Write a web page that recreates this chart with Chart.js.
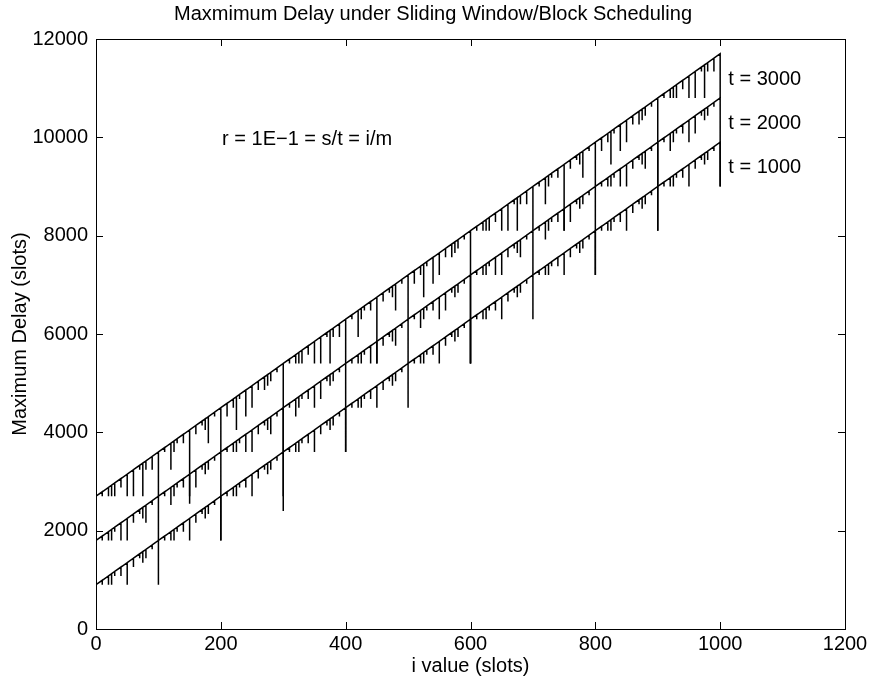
<!DOCTYPE html>
<html>
<head>
<meta charset="utf-8">
<script src="https://cdn.jsdelivr.net/npm/chart.js@4.4.1/dist/chart.umd.min.js"></script>
<style>
  html, body { margin: 0; padding: 0; background: #fff; }
  #wrap { width: 875px; height: 686px; }
</style>
</head>
<body>
<div id="wrap"><canvas id="myChart" width="875" height="686"></canvas></div>
<script>
// i values where the curves were read (spike positions)
const iValues = [0,
  10,20,25,30,40,50,60,70,75,80,90,100,
  110,120,125,130,140,150,160,170,175,180,190,200,
  210,220,225,230,240,250,260,270,275,280,290,300,
  310,320,325,330,340,350,360,370,375,380,390,400,
  410,420,425,430,440,450,460,470,475,480,490,500,
  510,520,525,530,540,550,560,570,575,580,590,600,
  610,620,625,630,640,650,660,670,675,680,690,700,
  710,720,725,730,740,750,760,770,775,780,790,800,
  810,820,825,830,840,850,860,870,875,880,890,900,
  910,920,925,930,940,950,960,970,975,980,990,1000];

// upper edge of each curve (slots)
const top1000 = [900,
  990,1080,1125,1170,1260,1350,1440,1530,1575,1620,1710,1800,
  1890,1980,2025,2070,2160,2250,2340,2430,2475,2520,2610,2700,
  2790,2880,2925,2970,3060,3150,3240,3330,3375,3420,3510,3600,
  3690,3780,3825,3870,3960,4050,4140,4230,4275,4320,4410,4500,
  4590,4680,4725,4770,4860,4950,5040,5130,5175,5220,5310,5400,
  5490,5580,5625,5670,5760,5850,5940,6030,6075,6120,6210,6300,
  6390,6480,6525,6570,6660,6750,6840,6930,6975,7020,7110,7200,
  7290,7380,7425,7470,7560,7650,7740,7830,7875,7920,8010,8100,
  8190,8280,8325,8370,8460,8550,8640,8730,8775,8820,8910,9000,
  9090,9180,9225,9270,9360,9450,9540,9630,9675,9720,9810,9900];

const top2000 = [1800,
  1890,1980,2025,2070,2160,2250,2340,2430,2475,2520,2610,2700,
  2790,2880,2925,2970,3060,3150,3240,3330,3375,3420,3510,3600,
  3690,3780,3825,3870,3960,4050,4140,4230,4275,4320,4410,4500,
  4590,4680,4725,4770,4860,4950,5040,5130,5175,5220,5310,5400,
  5490,5580,5625,5670,5760,5850,5940,6030,6075,6120,6210,6300,
  6390,6480,6525,6570,6660,6750,6840,6930,6975,7020,7110,7200,
  7290,7380,7425,7470,7560,7650,7740,7830,7875,7920,8010,8100,
  8190,8280,8325,8370,8460,8550,8640,8730,8775,8820,8910,9000,
  9090,9180,9225,9270,9360,9450,9540,9630,9675,9720,9810,9900,
  9990,10080,10125,10170,10260,10350,10440,10530,10575,10620,10710,10800];

const top3000 = [2700,
  2790,2880,2925,2970,3060,3150,3240,3330,3375,3420,3510,3600,
  3690,3780,3825,3870,3960,4050,4140,4230,4275,4320,4410,4500,
  4590,4680,4725,4770,4860,4950,5040,5130,5175,5220,5310,5400,
  5490,5580,5625,5670,5760,5850,5940,6030,6075,6120,6210,6300,
  6390,6480,6525,6570,6660,6750,6840,6930,6975,7020,7110,7200,
  7290,7380,7425,7470,7560,7650,7740,7830,7875,7920,8010,8100,
  8190,8280,8325,8370,8460,8550,8640,8730,8775,8820,8910,9000,
  9090,9180,9225,9270,9360,9450,9540,9630,9675,9720,9810,9900,
  9990,10080,10125,10170,10260,10350,10440,10530,10575,10620,10710,10800,
  10890,10980,11025,11070,11160,11250,11340,11430,11475,11520,11610,11700];

// depth of the downward spike at each i (slots)
const dip1000 = [0,
  90,180,225,90,180,450,180,90,225,180,90,900,
  90,180,225,90,180,450,180,90,225,180,90,900,
  90,180,225,90,180,450,180,90,225,180,90,900,
  90,180,225,90,180,450,180,90,225,180,90,900,
  90,180,225,90,180,450,180,90,225,180,90,900,
  90,180,225,90,180,450,180,90,225,180,90,900,
  90,180,225,90,180,450,180,90,225,180,90,900,
  90,180,225,90,180,450,180,90,225,180,90,900,
  90,180,225,90,180,450,180,90,225,180,90,900,
  90,180,225,90,180,450,180,90,225,180,90,900];

const dip2000 = [0,
  90,180,225,90,360,450,180,90,225,360,90,900,
  90,360,225,90,180,450,360,90,225,180,90,1800,
  90,180,225,90,360,450,180,90,225,360,90,900,
  90,360,225,90,180,450,360,90,225,180,90,1800,
  90,180,225,90,360,450,180,90,225,360,90,900,
  90,360,225,90,180,450,360,90,225,180,90,1800,
  90,180,225,90,360,450,180,90,225,360,90,900,
  90,360,225,90,180,450,360,90,225,180,90,1800,
  90,180,225,90,360,450,180,90,225,360,90,900,
  90,360,225,90,180,450,360,90,225,180,90,1800];

const dip3000 = [0,
  90,180,225,270,180,450,540,90,675,180,270,900,
  90,540,225,90,180,1500,180,90,225,540,90,900,
  270,180,675,90,540,450,180,270,225,180,90,3000,
  90,180,225,270,180,450,540,90,675,180,270,900,
  90,540,225,90,180,1350,180,90,225,540,90,900,
  270,180,675,90,540,450,180,270,225,180,90,2700,
  90,180,225,270,180,450,540,90,675,180,270,900,
  90,540,225,90,180,1350,180,90,225,540,90,900,
  270,180,675,90,540,450,180,270,225,180,90,2700,
  90,180,225,270,180,450,540,90,675,180,270,900];

const xTicks = [0, 200, 400, 600, 800, 1000, 1200];
const yTicks = [0, 2000, 4000, 6000, 8000, 10000, 12000];

const FONT = '"Liberation Sans", Arial, Helvetica, sans-serif';
const FSIZE = 20;

function buildSeries(tops, dips) {
  const pts = [];
  iValues.forEach((i, k) => {
    pts.push({ x: i, y: tops[k] });
    if (dips[k] > 0) {
      pts.push({ x: i, y: tops[k] - dips[k] });
      pts.push({ x: i, y: tops[k] });
    }
  });
  return pts;
}

function lineSet(label, tops, dips) {
  return {
    label: label,
    data: buildSeries(tops, dips),
    borderColor: '#000',
    borderWidth: 1.5,
    pointRadius: 0,
    tension: 0,
    fill: false
  };
}

// MATLAB style box, inward ticks and text labels
const boxPlugin = {
  id: 'matlabBox',
  afterDraw: (chart) => {
    const ctx = chart.ctx;
    const a = chart.chartArea;
    const xs = chart.scales.x;
    const ys = chart.scales.y;
    ctx.save();
    ctx.strokeStyle = '#000';
    ctx.lineWidth = 1;
    ctx.strokeRect(Math.round(a.left) + 0.5, Math.round(a.top) + 0.5,
      Math.round(a.right - a.left), Math.round(a.bottom - a.top));
    ctx.beginPath();
    xTicks.forEach(v => {
      const px = Math.round(xs.getPixelForValue(v)) + 0.5;
      ctx.moveTo(px, a.bottom); ctx.lineTo(px, a.bottom - 7);
      ctx.moveTo(px, a.top); ctx.lineTo(px, a.top + 7);
    });
    yTicks.forEach(v => {
      const py = Math.round(ys.getPixelForValue(v)) + 0.5;
      ctx.moveTo(a.left, py); ctx.lineTo(a.left + 7, py);
      ctx.moveTo(a.right, py); ctx.lineTo(a.right - 7, py);
    });
    ctx.stroke();

    ctx.fillStyle = '#000';
    ctx.font = FSIZE + 'px ' + FONT;
    ctx.textAlign = 'center';
    ctx.textBaseline = 'middle';
    ctx.fillText('Maxmimum Delay under Sliding Window/Block Scheduling', 433, 14);

    ctx.textAlign = 'left';
    ctx.fillText('r = 1E\u22121 = s/t = i/m', xs.getPixelForValue(202), ys.getPixelForValue(9950));
    ctx.fillText('t = 3000', xs.getPixelForValue(1013), ys.getPixelForValue(11175));
    ctx.fillText('t = 2000', xs.getPixelForValue(1013), ys.getPixelForValue(10290));
    ctx.fillText('t = 1000', xs.getPixelForValue(1013), ys.getPixelForValue(9396));
    ctx.restore();
  }
};

const ctx = document.getElementById('myChart').getContext('2d');
const myChart = new Chart(ctx, {
  type: 'line',
  data: {
    datasets: [
      lineSet('t = 1000', top1000, dip1000),
      lineSet('t = 2000', top2000, dip2000),
      lineSet('t = 3000', top3000, dip3000)
    ]
  },
  plugins: [boxPlugin],
  options: {
    responsive: false,
    animation: false,
    devicePixelRatio: 1,
    layout: { padding: { left: 0, right: 30, top: 39, bottom: 0 } },
    plugins: {
      legend: { display: false },
      tooltip: { enabled: false },
      title: { display: false }
    },
    scales: {
      x: {
        type: 'linear',
        min: 0,
        max: 1200,
        afterFit: (scale) => { scale.height = 57; },
        afterBuildTicks: (scale) => { scale.ticks = xTicks.map(v => ({ value: v })); },
        grid: { display: false, drawTicks: false },
        border: { display: false },
        ticks: { color: '#000', font: { family: FONT, size: FSIZE }, padding: 3, maxRotation: 0,
                 callback: (value) => String(value) },
        title: { display: true, text: 'i value (slots)', color: '#000',
                 font: { family: FONT, size: FSIZE }, padding: { top: 0, bottom: 8 } }
      },
      y: {
        type: 'linear',
        min: 0,
        max: 12000,
        afterFit: (scale) => { scale.width = 96; },
        afterBuildTicks: (scale) => { scale.ticks = yTicks.map(v => ({ value: v })); },
        grid: { display: false, drawTicks: false },
        border: { display: false },
        ticks: { color: '#000', font: { family: FONT, size: FSIZE }, padding: 8,
                 callback: (value) => String(value) },
        title: { display: true, text: 'Maximum Delay (slots)', color: '#000',
                 font: { family: FONT, size: FSIZE }, padding: { top: 8, bottom: 0 } }
      }
    }
  }
});
</script>
</body>
</html>
